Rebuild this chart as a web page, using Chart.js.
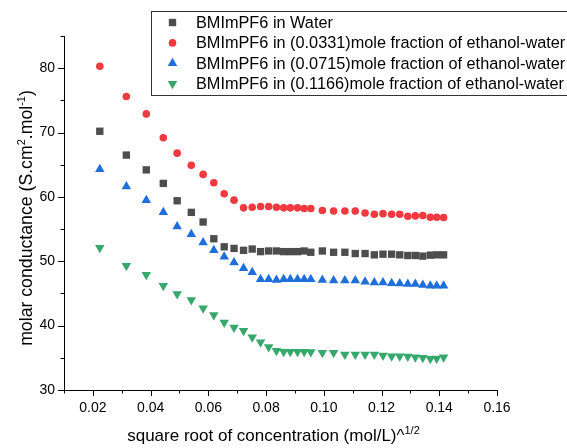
<!DOCTYPE html>
<html>
<head>
<meta charset="utf-8">
<title>Molar conductance of BMImPF6</title>
<script src="https://cdn.jsdelivr.net/npm/chart.js@4.4.1/dist/chart.umd.min.js"></script>
<style>
  html, body { margin: 0; padding: 0; background: #fff; }
  #wrap { width: 567px; height: 448px; }
</style>
</head>
<body>
<div id="wrap"><canvas id="chart" width="567" height="448"></canvas></div>
<script>
'use strict';

// ─── Data ─────────────────────────────────────────────────────────────────────
const xValues = [
  0.0224, 0.0316, 0.0385, 0.0444, 0.0492, 0.0541, 0.0582, 0.0619, 0.0655, 0.0689,
  0.0722, 0.0752, 0.0781, 0.0809, 0.0836, 0.0861, 0.0884, 0.0909, 0.0932, 0.0955,
  0.0995, 0.1034, 0.1073, 0.1109, 0.1143, 0.1175, 0.1205, 0.1235, 0.1263, 0.1291,
  0.1317, 0.1343, 0.1369, 0.1391, 0.1415,
];
const water = [
  70.2, 66.5, 64.2, 62.1, 59.4, 57.6, 56.1, 53.5, 52.25, 52.0,
  51.7, 51.9, 51.5, 51.6, 51.6, 51.5, 51.5, 51.5, 51.6, 51.4,
  51.6, 51.4, 51.4, 51.2, 51.2, 51.0, 51.1, 51.1, 51.0, 50.9,
  50.9, 50.8, 50.95, 51.0, 51.0,
];
const eth0331 = [
  80.3, 75.6, 72.9, 69.2, 66.8, 64.9, 63.5, 62.2, 60.5, 59.5,
  58.3, 58.4, 58.5, 58.5, 58.4, 58.3, 58.3, 58.3, 58.2, 58.2,
  57.9, 57.8, 57.8, 57.8, 57.5, 57.3, 57.4, 57.3, 57.3, 57.0,
  57.05, 57.1, 56.85, 56.85, 56.8,
];
const eth0715 = [
  64.3, 61.6, 59.5, 57.6, 55.4, 54.2, 52.9, 51.7, 50.7, 49.8,
  48.9, 48.3, 47.2, 47.2, 47.1, 47.2, 47.2, 47.2, 47.2, 47.2,
  47.1, 47.0, 47.0, 47.0, 46.8, 46.7, 46.7, 46.6, 46.55, 46.45,
  46.45, 46.3, 46.2, 46.2, 46.2,
];
const eth1166 = [
  52.1, 49.3, 47.9, 46.2, 44.9, 44.0, 42.7, 41.65, 40.5, 39.7,
  39.2, 38.2, 37.4, 36.7, 36.1, 35.95, 35.95, 35.95, 35.95, 35.9,
  35.8, 35.8, 35.5, 35.5, 35.5, 35.5, 35.35, 35.25, 35.25, 35.2,
  35.1, 35.0, 34.85, 34.9, 35.1,
];
const seriesLabels = [
  'BMImPF6 in Water',
  'BMImPF6 in (0.0331)mole fraction of ethanol-water',
  'BMImPF6 in (0.0715)mole fraction of ethanol-water',
  'BMImPF6 in (0.1166)mole fraction of ethanol-water',
];
const xRange = [0.01, 0.16];
const yRange = [30, 85];

// ─── Styles ───────────────────────────────────────────────────────────────────
const FONT = '"Liberation Sans", Arial, sans-serif';
const INK = '#000';
const styles = [
  { color: '#4d4d4d', pointStyle: 'rect', radius: 5.2, rotation: 0 },
  { color: '#f03a3f', pointStyle: 'circle', radius: 3.8, rotation: 0 },
  { color: '#1f6fdb', pointStyle: 'triangle', radius: 5.5, rotation: 0 },
  { color: '#37a86b', pointStyle: 'triangle', radius: 5.5, rotation: 180 },
];

function toPoints(ys) {
  return ys.map((y, i) => ({ x: xValues[i], y }));
}

const datasets = [water, eth0331, eth0715, eth1166].map((ys, i) => ({
  label: seriesLabels[i],
  data: toPoints(ys),
  showLine: false,
  backgroundColor: styles[i].color,
  borderColor: styles[i].color,
  pointStyle: styles[i].pointStyle,
  pointRadius: styles[i].radius,
  pointRotation: styles[i].rotation,
  pointBorderWidth: 0,
  pointHoverRadius: styles[i].radius,
}));

// ─── Helpers ──────────────────────────────────────────────────────────────────
// draws text pieces, some raised as superscripts, centred on cx
function drawRich(ctx, parts, cx, baseline, size) {
  const supSize = Math.round(size * 0.62);
  const widthOf = p => {
    ctx.font = `${p.sup ? supSize : size}px ${FONT}`;
    return ctx.measureText(p.t).width;
  };
  const total = parts.reduce((s, p) => s + widthOf(p), 0);
  let x = cx - total / 2;
  ctx.textAlign = 'left';
  ctx.textBaseline = 'alphabetic';
  parts.forEach(p => {
    const w = widthOf(p);
    ctx.fillText(p.t, x, p.sup ? baseline - size * 0.42 : baseline);
    x += w;
  });
}

// ─── Plugins ──────────────────────────────────────────────────────────────────
const axisDecor = {
  id: 'axisDecor',
  afterDraw(chart) {
    const { ctx, chartArea: a, scales: { x, y } } = chart;
    ctx.save();
    ctx.strokeStyle = INK;
    ctx.lineWidth = 1;
    ctx.beginPath();
    x.ticks.forEach(t => {
      const px = Math.round(x.getPixelForValue(t.value)) + 0.5;
      const major = Math.round(t.value * 100) % 2 === 0;
      ctx.moveTo(px, a.bottom);
      ctx.lineTo(px, a.bottom + (major ? 6 : 3.5));
    });
    y.ticks.forEach(t => {
      const py = Math.round(y.getPixelForValue(t.value)) + 0.5;
      const major = Math.round(t.value) % 10 === 0;
      ctx.moveTo(a.left, py);
      ctx.lineTo(a.left - (major ? 6 : 3.5), py);
    });
    ctx.stroke();

    // axis titles
    ctx.fillStyle = INK;
    drawRich(ctx, [
      { t: 'square root of concentration (mol/L)^' },
      { t: '1/2', sup: true },
    ], (a.left + a.right) / 2 - 7, 441, 17);

    ctx.translate(26, (a.top + a.bottom) / 2 + 5);
    ctx.rotate(-Math.PI / 2);
    drawRich(ctx, [
      { t: 'molar conductance (S.cm' },
      { t: '2', sup: true },
      { t: '.mol' },
      { t: '-1', sup: true },
      { t: ')' },
    ], 0, 6, 17.7);
    ctx.restore();
  },
};

const boxLegend = {
  id: 'boxLegend',
  afterDraw(chart) {
    const { ctx } = chart;
    const box = { left: 151.5, top: 11.5, right: 572, bottom: 95.5 };
    ctx.save();
    ctx.fillStyle = '#fff';
    ctx.fillRect(box.left, box.top, box.right - box.left, box.bottom - box.top);
    ctx.strokeStyle = '#333';
    ctx.lineWidth = 1;
    ctx.strokeRect(box.left, box.top, box.right - box.left, box.bottom - box.top);

    ctx.font = `16.3px ${FONT}`;
    ctx.textBaseline = 'middle';
    ctx.textAlign = 'left';
    chart.data.datasets.forEach((ds, i) => {
      const rowY = 22.5 + i * 20.4;
      ctx.fillStyle = ds.backgroundColor;
      Chart.helpers.drawPoint(ctx, {
        pointStyle: ds.pointStyle,
        radius: ds.pointRadius,
        rotation: ds.pointRotation,
        borderWidth: 0,
      }, 172.5, rowY);
      ctx.fillStyle = INK;
      ctx.fillText(ds.label, 196, rowY + 1);
    });
    ctx.restore();
  },
};

// ─── Chart ────────────────────────────────────────────────────────────────────
Chart.defaults.font.family = FONT;
Chart.defaults.color = INK;

new Chart(document.getElementById('chart'), {
  type: 'scatter',
  data: { datasets },
  options: {
    responsive: false,
    animation: false,
    layout: { padding: { top: 36, right: 70, left: 0, bottom: 0 } },
    plugins: {
      legend: { display: false },
      tooltip: { enabled: false },
    },
    scales: {
      x: {
        type: 'linear',
        min: xRange[0],
        max: xRange[1],
        afterFit: s => { s.height = 58; },
        border: { display: true, color: INK, width: 1 },
        grid: { display: true, drawOnChartArea: false, drawTicks: false },
        ticks: {
          stepSize: 0.01,
          autoSkip: false,
          maxRotation: 0,
          padding: 10,
          font: { size: 14 },
          color: INK,
          callback: v => (Math.round(v * 100) % 2 === 0 ? v.toFixed(2) : ''),
        },
      },
      y: {
        type: 'linear',
        min: yRange[0],
        max: yRange[1],
        afterFit: s => { s.width = 64; },
        border: { display: true, color: INK, width: 1 },
        grid: { display: true, drawOnChartArea: false, drawTicks: false },
        ticks: {
          stepSize: 5,
          autoSkip: false,
          padding: 9,
          font: { size: 14 },
          color: INK,
          callback: v => (Math.round(v) % 10 === 0 ? String(v) : ''),
        },
      },
    },
  },
  plugins: [axisDecor, boxLegend],
});
</script>
</body>
</html>
